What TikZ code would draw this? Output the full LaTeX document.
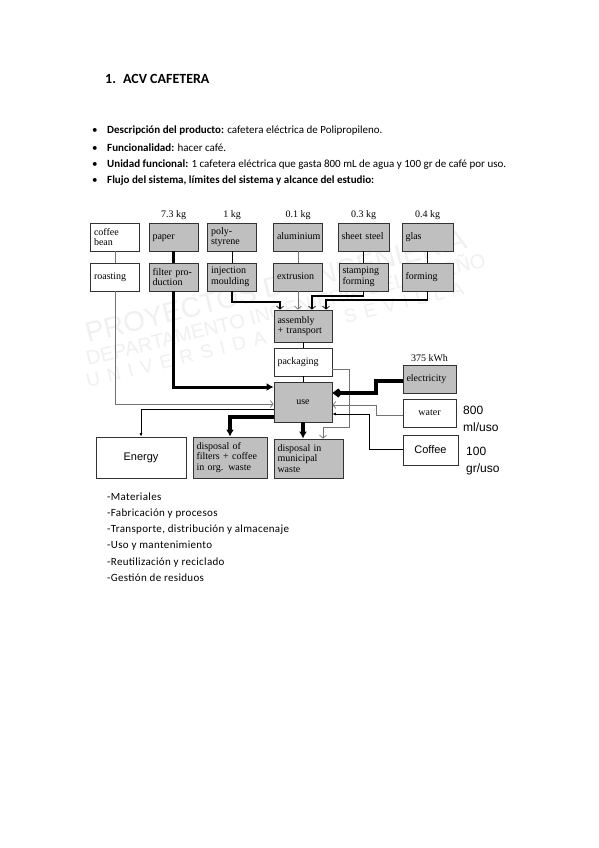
\documentclass[tikz,border=0pt]{standalone}
\usepackage{fontspec}
\setmainfont{Carlito}
\newfontfamily\seriffont{Liberation Serif}
\newfontfamily\arialfont{Liberation Sans}
\usetikzlibrary{arrows.meta, positioning}
\newcommand{\diagfont}{\seriffont\fontsize{10}{10.5}\selectfont}

\begin{document}
\begin{tikzpicture}[x=1pt, y=-1pt]
    \tikzstyle{matbox} = [rectangle, draw=black!80, line width=0.8pt, fill=black!25, text width=42pt, minimum height=28pt, inner sep=3.5pt, align=left, font=\diagfont]
    \tikzstyle{whitebox} = [matbox, fill=white]
    \tikzstyle{oneline} = [text height=6.8pt, text depth=2.2pt]
    \tikzstyle{sansbox} = [whitebox, align=center, font=\arialfont\fontsize{11}{13}\selectfont]
    \tikzstyle{kg} = [font=\diagfont, inner sep=1pt]
    \tikzstyle{qty} = [anchor=west, align=left, inner sep=0pt, font=\arialfont\fontsize{12}{17.5}\selectfont]
    \tikzstyle{textline} = [anchor=base west, inner sep=0pt, font=\fontsize{11}{13}\selectfont]
    \tikzstyle{phaseline} = [anchor=base west, inner sep=0pt, font=\fontsize{11}{13}\selectfont\addfontfeature{LetterSpace=3}]
    \tikzstyle{wm} = [anchor=base west, rotate=14, inner sep=0pt, text=black!6]
    \tikzstyle{greyline} = [draw, black!55, line width=0.8pt]
    \tikzstyle{wire} = [draw, line width=0.8pt]
    \tikzstyle{midline} = [draw, line width=1.4pt]
    \tikzstyle{heavy} = [draw, line width=3pt]
    \tikzstyle{barb} = [-{Straight Barb[length=3pt, width=7pt, line width=0.7pt]}]
    \tikzstyle{fat} = [-{Latex[length=7pt, width=8pt]}]
    \tikzstyle{kite} = [-{Kite[length=10pt, width=9pt, inset=4pt]}]
    \tikzstyle{tiptiny} = [-{Latex[length=3.5pt, width=3pt]}]

    \path [fill=white] (0,0) rectangle (599,848);
    \useasboundingbox (0,0) rectangle (599,848);

    % watermark
    \node [wm, font=\arialfont\fontsize{28}{28}\selectfont] (wm1) at (88,343) {PROYECTOS DE INGENIERIA};
    \node [wm, font=\arialfont\fontsize{20}{20}\selectfont] (wm2) at (88,366) {DEPARTAMENTO INGENIERIA DEL DISEÑO};
    \node [wm, font=\arialfont\fontsize{19}{19}\selectfont\addfontfeature{LetterSpace=40}] (wm3) at (88,388) {UNIVERSIDAD DE SEVILLA};

    % heading and bullets
    \node [anchor=base west, inner sep=0pt, font=\bfseries\fontsize{14}{16}\selectfont] (title) at (105,84) {1.\hspace{7pt}ACV CAFETERA};
    \node [textline] (dot1) at (92,134) {\textbullet};
    \node [textline] (dot2) at (92,151) {\textbullet};
    \node [textline] (dot3) at (92,167) {\textbullet};
    \node [textline] (dot4) at (92,183) {\textbullet};
    \node [textline] (item1) at (107,134) {\textbf{Descripción del producto:} cafetera eléctrica de Polipropileno.};
    \node [textline] (item2) at (107,151) {\textbf{Funcionalidad:} hacer café.};
    \node [textline] (item3) at (107,167) {\textbf{Unidad funcional:} 1 cafetera eléctrica que gasta 800 mL de agua y 100 gr de café por uso.};
    \node [textline] (item4) at (107,183) {\textbf{Flujo del sistema, límites del sistema y alcance del estudio:}};

    % materials
    \node [whitebox] (bean) at (115,237) {coffee\\bean};
    \node [matbox, oneline] (paper) at (173.5,237) {paper};
    \node [matbox] (styrene) at (232,237) {poly-\\styrene};
    \node [matbox, oneline] (alu) at (298,237) {aluminium};
    \node [matbox, oneline, text width=44pt] (steel) at (363.5,237) {sheet steel};
    \node [matbox, oneline, text width=44pt] (glas) at (427.5,237) {glas};
    \node [kg, above=2pt of paper] (kgpaper) {7.3 kg};
    \node [kg, above=2pt of styrene] (kgstyrene) {1 kg};
    \node [kg, above=2pt of alu] (kgalu) {0.1 kg};
    \node [kg, above=2pt of steel] (kgsteel) {0.3 kg};
    \node [kg, above=2pt of glas] (kgglas) {0.4 kg};

    % processes
    \node [whitebox, oneline] (roast) at (115,277) {roasting};
    \node [matbox] (filter) at (173.5,277) {filter pro-\\duction};
    \node [matbox] (inject) at (232,277) {injection\\moulding};
    \node [matbox, oneline] (extru) at (298,277) {extrusion};
    \node [matbox] (stamp) at (363.5,277) {stamping\\forming};
    \node [matbox, oneline, text width=44pt] (form) at (427.5,277) {forming};

    \node [matbox, text width=51pt, minimum height=32pt] (asm) at (303,326) {assembly\\+ transport};
    \node [whitebox, oneline, text width=51pt] (pack) at (303,362) {packaging};
    \node [matbox, oneline, text width=51pt, minimum height=40pt, align=center] (use) at (303,402) {use};

    % inputs on the right
    \node [matbox, oneline, text width=46pt] (elec) at (429.5,379) {electricity};
    \node [kg, above=2pt of elec] (kwh) {375 kWh};
    \node [whitebox, oneline, text width=46pt, align=center] (water) at (429.5,413.5) {water};
    \node [sansbox, text width=48pt, minimum height=30pt] (coffee) at (430.5,450) {Coffee};
    \node [qty] (qwater) at (463,419) {800\\ml/uso};
    \node [qty] (qcoffee) at (466,461) {100\\gr/uso};

    % outputs
    \node [sansbox, text width=83pt, minimum height=41pt] (energy) at (141,457.5) {Energy};
    \node [matbox, text width=67pt, minimum height=41pt] (org) at (230,457.5) {disposal of\\filters + coffee\\in org. waste};
    \node [matbox, text width=62pt, minimum height=39pt] (muni) at (308.5,458.5) {disposal in\\municipal\\waste};

    % first row to second row
    \path [greyline] (bean) -- (roast);
    \path [heavy, line width=2.4pt] (paper) -- (filter);
    \path [wire] (styrene) -- (inject);
    \path [greyline] (alu) -- (extru);
    \path [wire] (steel) -- (stamp);
    \path [midline] (glas) -- (form);

    % into assembly
    \coordinate (j1) at (280,302);
    \coordinate (j3) at (312,296);
    \coordinate (j4) at (326,300);
    \path [midline, barb] (inject.south) |- (j1) -- (j1 |- asm.north);
    \path [greyline, barb] (extru.south) -- (extru.south |- asm.north);
    \path [midline, barb] (stamp.south) |- (j3) -- (j3 |- asm.north);
    \path [midline, barb] (form.south) |- (j4) -- (j4 |- asm.north);
    \path [wire] (asm) -- (pack);
    \path [wire] (pack) -- (use);

    % into use from the left
    \path [heavy, fat] (filter.south) |- ([yshift=15pt]use.west);
    \path [greyline, barb] (roast.south) |- ([yshift=-2pt]use.west);

    % out of use
    \path [wire, tiptiny] ([yshift=-7pt]use.west) -| (energy.north);
    \path [heavy, line width=3.4pt, fat] ([yshift=-15pt]use.west) -| (org.north);
    \path [heavy, line width=3.4pt, fat] (use.south) -- (use.south |- muni.north);
    \coordinate (p1) at (349,427);
    \coordinate (p2) at (323,427);
    \path [greyline, barb] ([yshift=-7pt]pack.east) -| (p1) -- (p2) -- (p2 |- muni.north);

    % into use from the right
    \coordinate (e1) at (376,393);
    \coordinate (w1) at (376,405);
    \coordinate (c1) at (369,414);
    \path [heavy, line width=4pt, kite] ([yshift=-2pt]elec.west) -| (e1) -- (e1 -| use.east);
    \path [greyline, barb] ([yshift=-2pt]water.west) -| (w1) -- (w1 -| use.east);
    \path [wire, tiptiny] ([yshift=1pt]coffee.west) -| (c1) -- (c1 -| use.east);

    % life cycle phases
    \foreach \txt [count=\i] in {-Materiales, -Fabricación y procesos, {-Transporte, distribución y almacenaje}, -Uso y mantenimiento, -Reutilización y reciclado, -Gestión de residuos}
        \node [phaseline] (phase\i) at (107,484+16.2*\i) {\txt};
\end{tikzpicture}
\end{document}
